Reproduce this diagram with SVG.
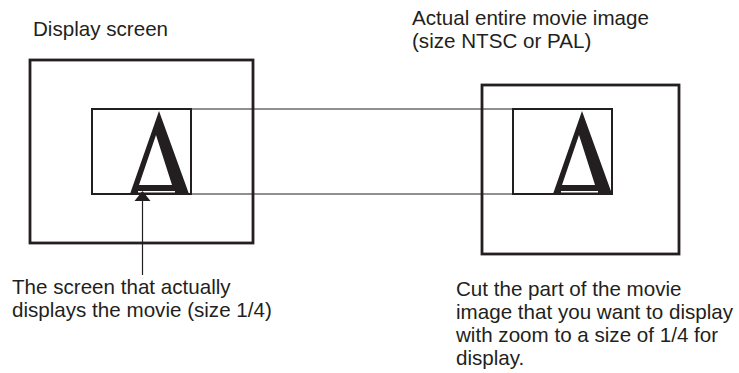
<svg xmlns="http://www.w3.org/2000/svg" width="739" height="373" viewBox="0 0 739 373">
<style>
text{font-family:"Liberation Sans",Arial,sans-serif;font-size:20.6px;fill:#231f20}
.outer{fill:none;stroke:#231f20;stroke-width:2.8}
.inner{fill:none;stroke:#231f20;stroke-width:2}
.conn{fill:none;stroke:#231f20;stroke-width:1}
</style>
<defs>
<g id="glyphA">
<path d="M29,2 L0,85 L59,85 Z M26,26 L9,76 L42,76 Z" fill="#231f20" fill-rule="evenodd"/>
<line x1="8" y1="82.8" x2="45" y2="82.8" stroke="#ffffff" stroke-width="1.4"/>
</g>
</defs>
<g id="display-screen">
<rect class="outer" x="30" y="60" width="223" height="183"/>
<text x="33" y="35.5">Display screen</text>
</g>
<g id="actual-screen">
<rect class="inner" x="92" y="109" width="99" height="85"/>
<use href="#glyphA" transform="translate(130,109)"/>
</g>
<g id="movie-image">
<rect class="outer" x="482" y="85" width="197" height="169"/>
<text x="412" y="25">Actual entire movie image</text>
<text x="412" y="48">(size NTSC or PAL)</text>
</g>
<g id="cut-part">
<rect class="inner" x="513" y="109" width="99" height="85"/>
<use href="#glyphA" transform="translate(553,109)"/>
</g>
<g id="connectors">
<line class="conn" x1="191" y1="109" x2="513" y2="109"/>
<line class="conn" x1="191" y1="194" x2="513" y2="194"/>
<line class="conn" x1="142.5" y1="275" x2="142.5" y2="192" style="stroke-width:1.2"/>
<path d="M142.5,191 L134.5,201 L150.5,201 Z" fill="#231f20"/>
</g>
<g id="label-screen">
<text x="12" y="294">The screen that actually</text>
<text x="12" y="317">displays the movie (size 1/4)</text>
</g>
<g id="label-cut">
<text x="456" y="296">Cut the part of the movie</text>
<text x="456" y="319">image that you want to display</text>
<text x="456" y="342">with zoom to a size of 1/4 for</text>
<text x="456" y="365">display.</text>
</g>
</svg>
